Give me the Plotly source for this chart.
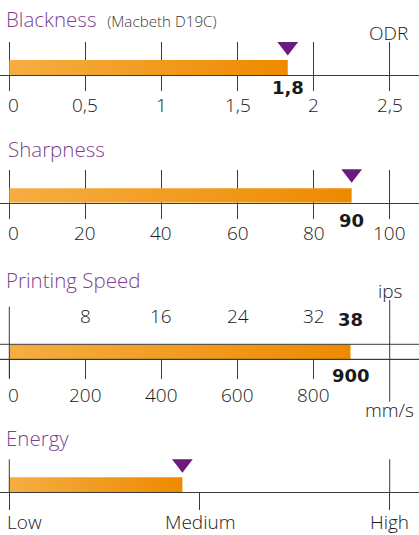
import plotly.graph_objects as go

# ---------------- data ----------------
blackness_ticks = [0, 0.5, 1, 1.5, 2, 2.5]
blackness_ticktext = ["0", "0,5", "1", "1,5", "2", "2,5"]
blackness_value = 1.83
blackness_label = "1,8"
blackness_unit = "ODR"

sharpness_ticks = [0, 20, 40, 60, 80, 100]
sharpness_ticktext = ["0", "20", "40", "60", "80", "100"]
sharpness_value = 90
sharpness_label = "90"

speed_mms_ticks = [0, 200, 400, 600, 800]
speed_mms_ticktext = ["0", "200", "400", "600", "800"]
speed_ips_ticks = [8, 16, 24, 32]
speed_ips_ticktext = ["8", "16", "24", "32"]
speed_value_mms = 897
speed_label_mms = "900"
speed_label_ips = "38"
speed_max_mms = 1000
mms_per_ips = 25

energy_ticks = [0, 1, 2]
energy_ticktext = ["Low", "Medium", "High"]
energy_value = 0.91

titles = ["Blackness", "Sharpness", "Printing Speed", "Energy"]
blackness_subtitle = "(Macbeth D19C)"

# ---------------- style / layout ----------------
W, H = 419, 535
X0, XF = 9.3, 389.7
FONT = "Open Sans"
BOLD_FONT = "DejaVu Sans"
INK = "#1a1a1a"
LINE = "#3a3a3a"
PURPLE_T = "#7d3f8f"
PURPLE_M = "#6a1b7b"
ORANGE = [[0, "#f5ae42"], [1, "#ee8a00"]]
LIGHT = 300
TICK_SIZE = 19
TITLE_SIZE = 20.5


def yp(px):
    return 1 - px / H


def xrange_for(vmax):
    s = (XF - X0) / vmax
    return [-X0 / s, (W - X0) / s]


fig = go.Figure()


def add_bar(value, xa, ya, top, bottom):
    fig.add_trace(go.Scatter(
        x=[0, value, value, 0, 0], y=[bottom, bottom, top, top, bottom],
        fill="toself", mode="none",
        fillgradient=dict(type="horizontal", colorscale=ORANGE),
        xaxis=xa, yaxis=ya, hoverinfo="skip", showlegend=False))


def add_marker(value, xa, ya, top):
    fig.add_trace(go.Scatter(
        x=[value], y=[top + 4.5], mode="markers",
        marker=dict(symbol="triangle-down", size=18, color=PURPLE_M, line_width=0),
        cliponaxis=False, xaxis=xa, yaxis=ya, hoverinfo="skip", showlegend=False))


annotations = []


def text(x, xref, ypx, s, size=TICK_SIZE, color=INK, bold=False, anchor="center", xshift=0):
    annotations.append(dict(
        x=x, xref=xref, y=yp(ypx), yref="paper", text=s, showarrow=False,
        xanchor=anchor, yanchor="middle", xshift=xshift, borderpad=0,
        font=dict(family=BOLD_FONT if bold else FONT, size=18 if bold else size,
                  color=color, weight=700 if bold else LIGHT)))


def tick_labels(vals, labels, xref, ypx, first_shift=-2):
    for i, (v, t) in enumerate(zip(vals, labels)):
        if i == 0:
            text(v, xref, ypx, t, anchor="left", xshift=first_shift)
        else:
            text(v, xref, ypx, t)


shapes = []


def hline(yref_px):
    shapes.append(dict(type="line", xref="paper", yref="paper", x0=0, x1=1,
                       y0=yp(yref_px), y1=yp(yref_px), line=dict(color=LINE, width=1)))


def vline(x, xref, top, bottom):
    shapes.append(dict(type="line", xref=xref, yref="paper", x0=x, x1=x,
                       y0=yp(bottom), y1=yp(top), line=dict(color=LINE, width=1)))


axis_common = dict(showticklabels=False, ticks="outside", tickcolor=LINE, tickwidth=1,
                   showline=True, linecolor=LINE, linewidth=1, zeroline=False,
                   fixedrange=True, gridcolor=LINE, gridwidth=1)

# Panel 1: Blackness
P1_TOP, P1_AX = 42, 75
add_bar(blackness_value, "x", "y", 60, P1_AX)
add_marker(blackness_value, "x", "y", 42)
text(0, "paper", 19,
     "Blackness&nbsp; <span style='font-size:15.2px;color:#3a3a3a;font-weight:300'>"
     + blackness_subtitle + "</span>",
     size=TITLE_SIZE, color=PURPLE_T, anchor="left", xshift=5)
tick_labels(blackness_ticks, blackness_ticktext, "x", 105)
text(blackness_value, "x", 88, blackness_label, bold=True)
text(388 / W, "paper", 33.3, blackness_unit)

# Panel 2: Sharpness
P2_TOP, P2_AX = 170, 202.7
add_bar(sharpness_value, "x2", "y2", 188.3, P2_AX)
add_marker(sharpness_value, "x2", "y2", 169.3)
text(0, "paper", 149.3, titles[1], size=TITLE_SIZE, color=PURPLE_T, anchor="left", xshift=7)
tick_labels(sharpness_ticks, sharpness_ticktext, "x2", 233.3)
text(sharpness_value, "x2", 220, sharpness_label, bold=True)

# Panel 3: Printing speed
P3_TOP, P3_AX = 344.3, 359.3
add_bar(speed_value_mms, "x3", "y3", P3_TOP, P3_AX)
add_marker(speed_value_mms, "x3", "y3", 329)
text(0, "paper", 279.7, titles[2], size=TITLE_SIZE, color=PURPLE_T, anchor="left", xshift=5)
tick_labels(speed_mms_ticks, speed_mms_ticktext, "x3", 395)
for v, t in zip(speed_ips_ticks, speed_ips_ticktext):
    text(v * mms_per_ips, "x3", 316.3, t)
text(speed_value_mms, "x3", 319.7, speed_label_ips, bold=True)
text(speed_value_mms, "x3", 375, speed_label_mms, bold=True)
text(speed_max_mms, "x3", 290.8, "ips")
text(speed_max_mms, "x3", 410, "mm/s")
vline(0, "x3", 306.7, 378)
vline(speed_max_mms, "x3", 300, 401.7)
hline(P3_TOP)
hline(P3_AX)

# Panel 4: Energy
P4_TOP, P4_AX = 459.3, 492.3
add_bar(energy_value, "x5", "y4", 477.3, P4_AX)
add_marker(energy_value, "x5", "y4", 459.3)
text(0, "paper", 438.3, titles[3], size=TITLE_SIZE, color=PURPLE_T, anchor="left", xshift=5)
tick_labels(energy_ticks, energy_ticktext, "x5", 521.8, first_shift=-3)
vline(energy_ticks[0], "x5", P4_TOP, P4_AX)
vline(energy_ticks[-1], "x5", P4_TOP, P4_AX)

fig.update_layout(
    width=W, height=H, margin=dict(l=0, r=0, t=0, b=0),
    paper_bgcolor="white", plot_bgcolor="rgba(0,0,0,0)",
    font=dict(family=FONT, color=INK),
    showlegend=False, annotations=annotations, shapes=shapes,
    xaxis=dict(domain=[0, 1], anchor="y", range=xrange_for(2.5), tickvals=blackness_ticks,
               ticklen=15, showgrid=True, **axis_common),
    yaxis=dict(domain=[yp(P1_AX), yp(P1_TOP)], range=[P1_AX, P1_TOP], visible=False, fixedrange=True),
    xaxis2=dict(domain=[0, 1], anchor="y2", range=xrange_for(100), tickvals=sharpness_ticks,
                ticklen=15, showgrid=True, **axis_common),
    yaxis2=dict(domain=[yp(P2_AX), yp(P2_TOP)], range=[P2_AX, P2_TOP], visible=False, fixedrange=True),
    xaxis3=dict(domain=[0, 1], anchor="y3", range=xrange_for(speed_max_mms), tickvals=speed_mms_ticks,
                ticklen=19, showgrid=False, **axis_common),
    xaxis4=dict(domain=[0, 1], anchor="y3", overlaying="x3", side="top",
                range=[v / mms_per_ips for v in xrange_for(speed_max_mms)], tickvals=speed_ips_ticks,
                ticklen=14, showgrid=False, **axis_common),
    yaxis3=dict(domain=[yp(P3_AX), yp(P3_TOP)], range=[P3_AX, P3_TOP], visible=False, fixedrange=True),
    xaxis5=dict(domain=[0, 1], anchor="y4", range=xrange_for(2), tickvals=energy_ticks,
                ticklen=17, showgrid=False, **axis_common),
    yaxis4=dict(domain=[yp(P4_AX), yp(P4_TOP)], range=[P4_AX, P4_TOP], visible=False, fixedrange=True),
)

fig.write_html("out.html", config={"displayModeBar": False},
               post_script="document.body.style.margin='0px';document.body.style.padding='0px';")
